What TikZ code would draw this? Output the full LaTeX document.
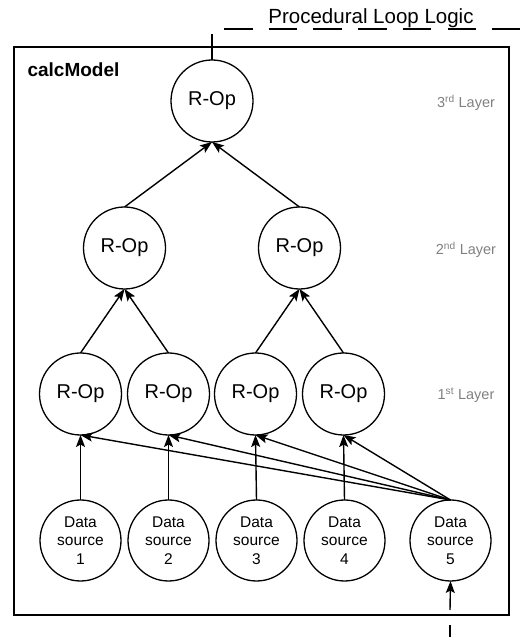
\documentclass[tikz,border=0pt]{standalone}
\usepackage{fontspec}
\setmainfont{Liberation Sans}
\usetikzlibrary{arrows.meta, positioning, trees}

\begin{document}
\begin{tikzpicture}[x=1pt, y=1pt,
  >={Stealth[length=12pt, width=9pt, inset=2.5pt]},
  opnode/.style={circle, draw, line width=1.3pt, minimum size=82pt, inner sep=0pt, outer sep=0pt, font=\fontsize{20}{23}\selectfont},
  srcnode/.style={circle, draw, line width=1.3pt, minimum size=81pt, inner sep=0pt, outer sep=0pt, align=center, font=\fontsize{15.5}{18.5}\selectfont},
  layerlbl/.style={text=gray, font=\fontsize{14.5}{16}\selectfont},
  feed/.style={->, line width=1.4pt},
  level 1/.style={sibling distance=175pt, level distance=147pt},
  level 2/.style={sibling distance=88pt, level distance=146pt},
  edge from parent/.style={draw, <-, line width=1.4pt},
  edge from parent path={(\tikzparentnode.south) -- (\tikzchildnode.north)}]

  \useasboundingbox (0,0) rectangle (523,637);

  % the model frame
  \draw[line width=1.8pt] (14,22) rectangle (509,590);
  \node[font=\bfseries\fontsize{19}{22}\selectfont, anchor=base west] (model) at (24,560) {calcModel};

  % R-Op layers
  \node[opnode] (top) at (212,536) {R-Op}
    child {node[opnode] (mid1) {R-Op}
      child {node[opnode] (op1) {R-Op}}
      child {node[opnode] (op2) {R-Op}}}
    child {node[opnode] (mid2) {R-Op}
      child {node[opnode] (op3) {R-Op}}
      child {node[opnode] (op4) {R-Op}}};

  \node[layerlbl] (lay3) at (466,534) {3\textsuperscript{rd} Layer};
  \node[layerlbl] (lay2) at (466,387) {2\textsuperscript{nd} Layer};
  \node[layerlbl] (lay1) at (466,242) {1\textsuperscript{st} Layer};

  % data sources
  \node[srcnode, below=65pt of op1] (src1) {Data\\source\\1};
  \node[srcnode, right=7pt of src1] (src2) {Data\\source\\2};
  \node[srcnode, right=7pt of src2] (src3) {Data\\source\\3};
  \node[srcnode, right=7pt of src3] (src4) {Data\\source\\4};
  \node[srcnode, right=25pt of src4] (src5) {Data\\source\\5};

  \foreach \i in {1,...,4}
    \draw[feed] (src\i.north) -- (op\i.south);
  \foreach \i in {1,...,4}
    \draw[feed] (src5.north) -- (op\i.south);

  % procedural loop
  \node[anchor=base, font=\fontsize{20.5}{23}\selectfont] (loop) at (371,613) {Procedural Loop Logic};
  \coordinate (dashL) at (224,608);
  \coordinate (dashR) at (520,608);
  \draw[line width=1.2pt, dash pattern=on 28.5pt off 16.2pt] (dashL) -- (dashR);
  \coordinate (loopin) at (212,603);
  \draw[line width=1.4pt] (loopin) -- (top.north);
  \coordinate (loopout) at (450,27);
  \draw[feed] (loopout) -- (src5.south);
  \coordinate (tickA) at (450,12);
  \coordinate (tickB) at (450,0);
  \draw[line width=1.4pt] (tickA) -- (tickB);
\end{tikzpicture}
\end{document}
